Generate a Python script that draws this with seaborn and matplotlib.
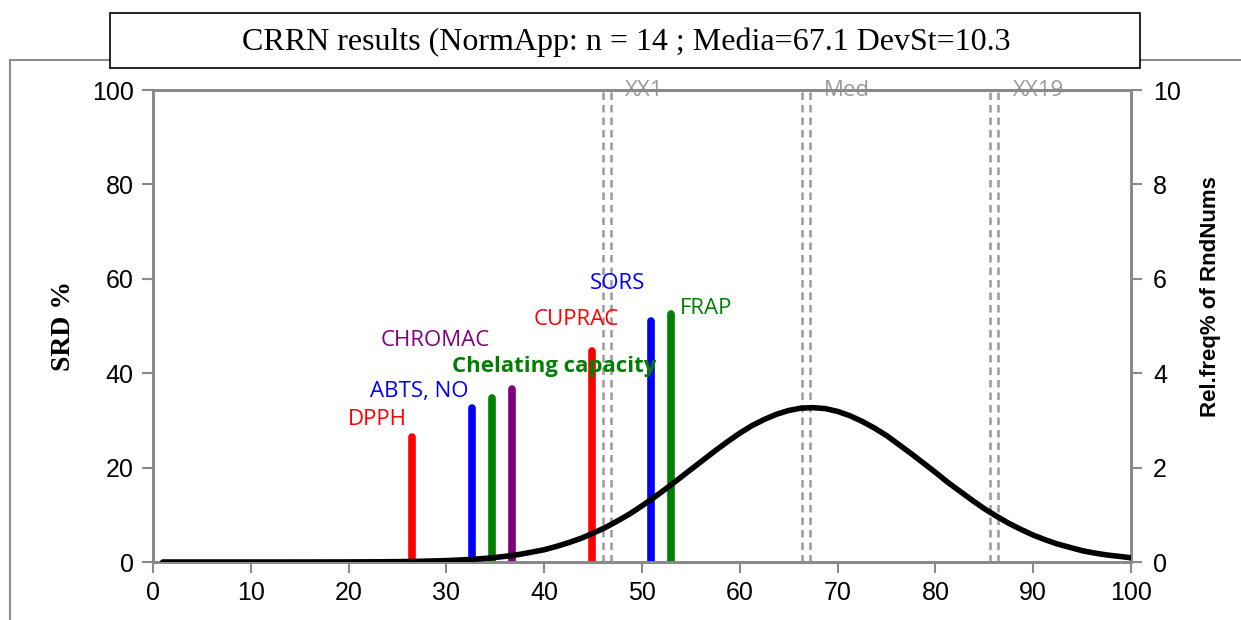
import matplotlib
matplotlib.use("Agg")
import matplotlib.pyplot as plt
from matplotlib.patches import Rectangle
import seaborn as sns
import pandas as pd

# ---- data ----
methods = ["DPPH", "ABTS, NO", "Chelating capacity", "CHROMAC", "CUPRAC", "SORS", "FRAP"]
method_x = [26.5, 32.6, 34.7, 36.7, 44.9, 50.9, 53.0]
method_srd = [26.4, 32.6, 34.7, 36.6, 44.8, 51.0, 52.5]
method_colors = ["#ff0000", "#0000ff", "#008000", "#800080", "#ff0000", "#0000ff", "#008000"]
label_x = [22.9, 27.2, 41.0, 28.9, 43.25, 47.5, 56.5]
label_y = [30.1, 36.2, 41.5, 47.0, 51.3, 58.9, 53.8]
label_bold = [False, False, True, False, False, False, False]

curve_x = [1, 2.5, 5, 7.5, 10, 12.5, 15, 17.5, 20, 22.5, 25, 27.5, 30, 32.5, 33.75, 35,
           36.25, 37.5, 38.75, 40, 41.25, 42.5, 43.75, 45, 46.25, 47.5, 48.75, 50, 51.25,
           52.5, 53.75, 55, 56.25, 57.5, 58.75, 60, 61.25, 62.5, 63.75, 65, 66.25, 67.5,
           68.75, 70, 71.25, 72.5, 73.75, 75, 76.25, 77.5, 78.75, 80, 81.25, 82.5, 83.75,
           85, 86.25, 87.5, 88.75, 90, 91.25, 92.5, 93.75, 95, 96.25, 97.5, 98.75, 100]
curve_y = [0.0, 0.0, 0.0, 0.0, 0.0001, 0.0001, 0.0003, 0.0007, 0.0017, 0.0037, 0.0077,
           0.0154, 0.030, 0.054, 0.073, 0.096, 0.126, 0.162, 0.21, 0.26, 0.33, 0.41, 0.50,
           0.61, 0.73, 0.87, 1.02, 1.19, 1.37, 1.56, 1.76, 1.96, 2.16, 2.36, 2.55, 2.73,
           2.89, 3.02, 3.13, 3.21, 3.26, 3.27, 3.25, 3.19, 3.10, 2.98, 2.84, 2.68, 2.49,
           2.30, 2.10, 1.90, 1.69, 1.50, 1.31, 1.13, 0.97, 0.82, 0.69, 0.57, 0.47, 0.38,
           0.31, 0.24, 0.19, 0.15, 0.12, 0.09]

ref_lines = [46.0, 46.8, 66.4, 67.2, 85.6, 86.4]
ref_labels = ["XX1", "Med", "XX19"]
ref_label_x = [48.3, 68.6, 87.9]

title = "CRRN results (NormApp: n = 14 ; Media=67.1 DevSt=10.3"
x_ticks = [0, 10, 20, 30, 40, 50, 60, 70, 80, 90, 100]
y_ticks = [0, 20, 40, 60, 80, 100]
y2_ticks = [0, 2, 4, 6, 8, 10]

# ---- figure ----
sns.set_theme(style="white")
plt.rcParams['font.family'] = ['Liberation Sans', 'DejaVu Sans']
plt.rcParams['text.color'] = 'black'
plt.rcParams['axes.labelcolor'] = 'black'
plt.rcParams['xtick.color'] = 'black'
plt.rcParams['ytick.color'] = 'black'

fig = plt.figure(figsize=(12.41, 6.20), dpi=100)
ax = fig.add_axes([153/1241, 58/620, (1131-153)/1241, (562-90)/620])
ax2 = ax.twinx()

spine_col = "#898989"
for a in (ax, ax2):
    for s in a.spines.values():
        s.set_color(spine_col)
        s.set_linewidth(2)

ax.set_xlim(0, 100)
ax.set_ylim(0, 100)
ax2.set_ylim(0, 10)
ax.set_xticks(x_ticks)
ax.set_yticks(y_ticks)
ax2.set_yticks(y2_ticks)
ax.tick_params(axis='both', which='both', direction='out', length=8, width=1.5,
               color=spine_col, labelcolor="black", labelsize=18, pad=6,
               left=True, bottom=True)
ax2.tick_params(axis='y', direction='out', length=8, width=1.5, color=spine_col,
                labelcolor="black", labelsize=18, pad=8, right=True)

# reference dashed lines
for xv in ref_lines:
    ax.axvline(xv, color="#9a9a9a", linestyle=(0, (3, 2)), linewidth=1.8, zorder=1)
for t, xv in zip(ref_labels, ref_label_x):
    ax.text(xv, 100, t, color="#9a9a9a", fontsize=16, family="Open Sans",
            ha="left", va="center", zorder=1)

# method bars
lc = ax.vlines(method_x, 0, method_srd, colors=method_colors, linewidth=5.5, zorder=3)
lc.set_capstyle("round")
for name, lx, ly, c, b in zip(methods, label_x, label_y, method_colors, label_bold):
    ax.text(lx, ly, name, color=c, fontsize=16, family="Open Sans",
            fontweight="bold" if b else "normal", ha="center", va="center", zorder=4)

# normal curve
df = pd.DataFrame({"x": curve_x, "y": curve_y})
sns.lineplot(data=df, x="x", y="y", ax=ax2, color="black", linewidth=4, zorder=5)
ax.set_xlabel("")
ax2.set_xlabel("")

ax.set_ylabel("SRD %", family="Liberation Serif", fontweight="bold", fontsize=20,
              color="black")
ax.yaxis.set_label_coords(-(153 - 76) / 978, 0.5)
ax2.set_ylabel("Rel.freq% of RndNums", fontweight="bold", fontsize=16, color="black")
ax2.yaxis.set_label_coords((1200 - 153) / 978, (562 - 297) / 472)

# outer chart border and title box
fig.add_artist(Rectangle((10/1241, -0.05), 1.2, 1 - 60/620 + 0.05,
                         transform=fig.transFigure, fill=False,
                         edgecolor="#8c8c8c", linewidth=1.5, zorder=0))
fig.add_artist(Rectangle((110/1241, 1 - 68/620), (1140-110)/1241, (68-13)/620,
                         transform=fig.transFigure, facecolor="white",
                         edgecolor="black", linewidth=1.2, zorder=2))
fig.text(626/1241, 1 - 42/620, title, family="Liberation Serif", fontsize=23,
         ha="center", va="center", zorder=3)

fig.savefig("out.png", dpi=100)
